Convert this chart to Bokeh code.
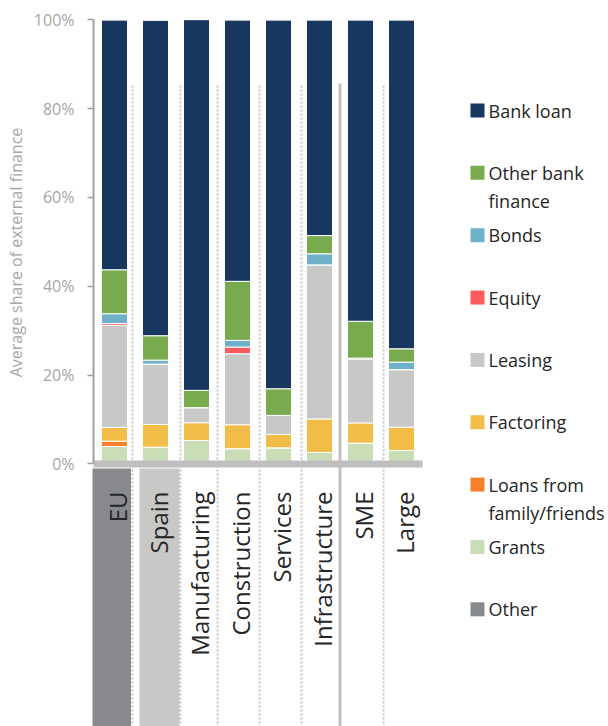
import math
from bokeh.plotting import figure
from bokeh.models import ColumnDataSource, Range1d, FixedTicker, PrintfTickFormatter
from bokeh.core.properties import value
from bokeh.embed import file_html
from bokeh.resources import INLINE

# ---------------- data (percent of external finance) ----------------
categories = ["EU", "Spain", "Manufacturing", "Construction", "Services",
              "Infrastructure", "SME", "Large"]
grants       = [3.9, 3.75, 5.25, 3.4, 3.6, 2.55, 4.65, 3.0]
loans_family = [1.2, 0.0, 0.0, 0.0, 0.0, 0.0, 0.0, 0.0]
factoring    = [3.1, 5.1, 4.0, 5.4, 3.0, 7.55, 4.55, 5.25]
leasing      = [23.0, 13.6, 3.4, 16.0, 4.3, 34.7, 14.4, 12.95]
equity       = [0.4, 0.0, 0.0, 1.5, 0.0, 0.0, 0.2, 0.0]
bonds        = [2.2, 0.9, 0.0, 1.5, 0.0, 2.5, 0.0, 1.7]
other_bank   = [9.9, 5.5, 3.9, 13.3, 6.0, 4.1, 8.3, 3.0]
bank_loan    = [56.3, 71.1, 83.5, 58.9, 83.1, 48.6, 67.9, 74.1]
other        = [0.0, 0.0, 0.0, 0.0, 0.0, 0.0, 0.0, 0.0]

y_ticks = [0, 20, 40, 60, 80, 100]
y_title = "Average share of external finance"

series_names = ["Grants", "Loans from family/friends", "Factoring", "Leasing",
                "Equity", "Bonds", "Other bank finance", "Bank loan", "Other"]
series_values = [grants, loans_family, factoring, leasing, equity, bonds,
                 other_bank, bank_loan, other]
series_colors = ["#c9deb6", "#f57f2b", "#f1bd48", "#c8c8c6", "#fd5b5e",
                 "#6fb1c9", "#78ab4e", "#17375e", "#868a8d"]

legend_labels = [["Bank loan"], ["Other bank", "finance"], ["Bonds"], ["Equity"],
                 ["Leasing"], ["Factoring"], ["Loans from", "family/friends"],
                 ["Grants"], ["Other"]]
legend_colors = ["#17375e", "#78ab4e", "#6fb1c9", "#fd5b5e", "#c8c8c6",
                 "#f1bd48", "#f57f2b", "#c9deb6", "#868a8d"]

# ---------------- layout helpers (page pixel -> data) ----------------
PX_PER_PCT = 4.44
Y0_PAGE = 463.3
X0_PAGE = 114.0
PX_PER_CAT = 41.0
W, H = 608, 726


def py(y):
    return (Y0_PAGE - y) / PX_PER_PCT


def px(x):
    return (x - X0_PAGE) / PX_PER_CAT


FONT = "Open Sans"

p = figure(width=W, height=H,
           x_range=Range1d(px(0), px(W)),
           y_range=Range1d(py(H), py(0)),
           output_backend="svg", toolbar_location=None,
           x_axis_type=None,
           min_border_left=0, min_border_right=0,
           min_border_top=0, min_border_bottom=0,
           outline_line_color=None, background_fill_color="white",
           border_fill_color="white")
p.xgrid.visible = False
p.ygrid.visible = False

# separators
dotted_x = [px(132), px(180), px(217), px(259), px(301), px(383)]
p.segment(x0=dotted_x, x1=dotted_x, y0=[py(85)] * len(dotted_x),
          y1=[py(H + 4)] * len(dotted_x), line_color="#c8c8c8",
          line_width=2, line_dash="2 2")
solid_x = [px(339.5)]
p.segment(x0=solid_x, x1=solid_x, y0=[py(83)], y1=[py(H + 4)],
          line_color="#c0c0c0", line_width=3)

# label boxes for EU and Spain
p.quad(left=[px(92), px(139)], right=[px(130.5), px(179)],
       top=[py(468)] * 2, bottom=[py(H + 4)] * 2,
       fill_color=["#87898c", "#c8c8c6"], line_color=None)

# stacked bars
data = {"x": list(range(len(categories)))}
for name, vals in zip(series_names, series_values):
    data[name] = vals
src = ColumnDataSource(data)
p.vbar_stack(series_names, x="x", width=26 / PX_PER_CAT, color=series_colors,
             source=src, line_color="white", line_width=1)

# thick baseline band
p.quad(left=[px(93)], right=[px(422)], top=[py(460)], bottom=[py(467)],
       fill_color="#bfbfbf", line_color=None)

# category labels (rotated)
p.text(x=[i + px(117) for i in range(len(categories))],
       y=[py(491)] * len(categories), text=categories,
       angle=math.pi / 2, text_align="right", text_baseline="middle",
       text_font=value(FONT), text_font_size="24px", text_color="#262626")

# legend
sq_x, sq_y, tx, ty, tt = [], [], [], [], []
for k, lines in enumerate(legend_labels):
    yc = 110 + 62.35 * k
    sq_x.append(px(477))
    sq_y.append(py(yc))
    for j, line in enumerate(lines):
        tx.append(px(488))
        ty.append(py(yc + 28 * j))
        tt.append(line)
p.scatter(x=sq_x, y=sq_y, marker="square", size=14, fill_color=legend_colors,
          line_color=None)
p.text(x=tx, y=ty, text=tt, text_align="left", text_baseline="middle",
       text_font=value(FONT), text_font_size="18px", text_color="#262626")

# y axis title
p.text(x=[px(15)], y=[py(252)], text=[y_title], angle=math.pi / 2,
       text_align="center", text_baseline="middle",
       text_font=value(FONT), text_font_size="16px", text_color="#a6a6a6")

# y axis, drawn at a fixed location inside the canvas
ax = p.yaxis[0]
ax.fixed_location = px(93)
ax.bounds = (0, 100)
ax.ticker = FixedTicker(ticks=y_ticks)
ax.formatter = PrintfTickFormatter(format="%d%%")
ax.minor_tick_line_color = None
ax.major_tick_in = 0
ax.major_tick_out = 6
ax.axis_line_color = "#a0a0a0"
ax.axis_line_width = 2
ax.major_tick_line_color = "#a0a0a0"
ax.major_tick_line_width = 1.5
ax.major_label_standoff = 13
ax.major_label_text_color = "#a6a6a6"
ax.major_label_text_font = FONT
ax.major_label_text_font_size = "16px"

open("out.html", "w").write(file_html(p, INLINE))
